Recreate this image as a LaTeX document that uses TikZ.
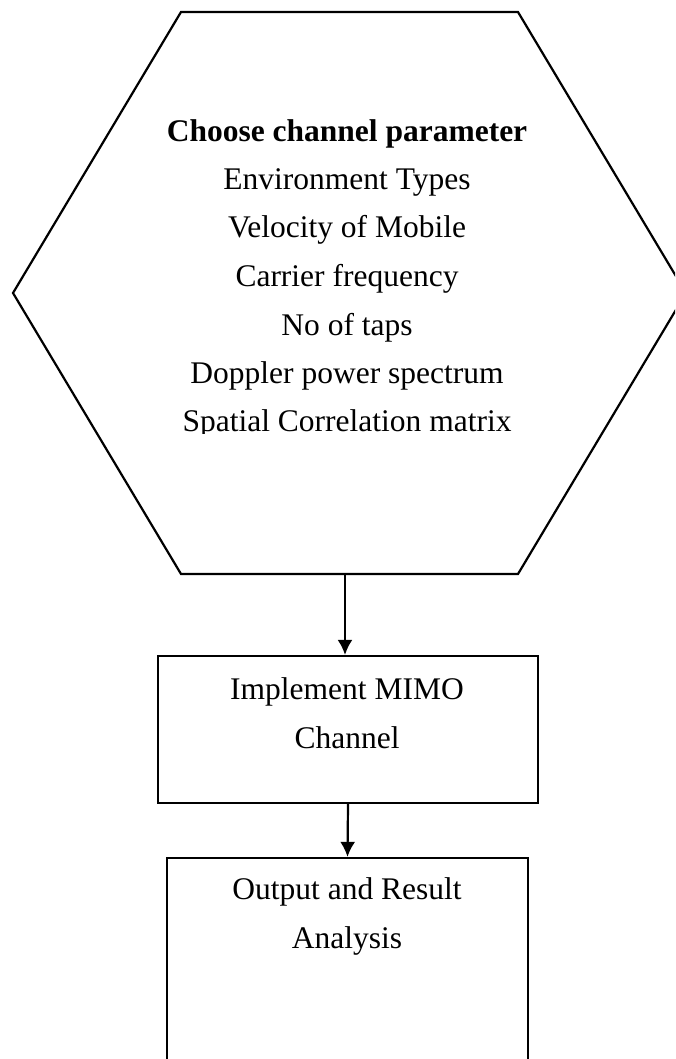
\documentclass[tikz,border=0pt]{standalone}
\usepackage{fontspec}
\setmainfont{Liberation Serif}
\usepackage{tikz}
\usetikzlibrary{arrows.meta}

\begin{document}
\begin{tikzpicture}[x=1pt,y=-1pt,line width=2.2pt,
  txt/.style={anchor=base,inner sep=0pt,font=\fontsize{31.5}{31.5}\selectfont},
  stepbox/.style={draw,rectangle,inner sep=0pt},
  flow/.style={-{Latex[length=15pt,width=15pt]}}]
\useasboundingbox (0,0) rectangle (675,1059);
\clip (0,0) rectangle (675,1059);
\draw (181,12) -- (518,12) -- (686,293) -- (518,574) -- (181,574) -- (13,293) -- cycle;
\coordinate (hexout) at (345,574);
\begin{scope}
\clip (0,0) rectangle (675,433);
\node[txt,font=\fontsize{31.5}{31.5}\selectfont\bfseries] (par) at (347,142) {Choose channel parameter};
\node[txt] (env) at (347,190) {Environment Types};
\node[txt] (vel) at (347,238) {Velocity of Mobile};
\node[txt] (car) at (347,286) {Carrier frequency};
\node[txt] (tap) at (347,335) {No of taps};
\node[txt] (dop) at (347,383) {Doppler power spectrum};
\node[txt] (spa) at (347,431) {Spatial Correlation matrix};
\end{scope}
\node[stepbox,minimum width=380pt,minimum height=147pt] (impl) at (348,729.5) {};
\node[txt] (impla) at (347,699) {Implement MIMO};
\node[txt] (implb) at (347,748) {Channel};
\node[stepbox,minimum width=361pt,minimum height=260pt] (out) at (347.5,988) {};
\node[txt] (outa) at (347,899) {Output and Result};
\node[txt] (outb) at (347,948) {Analysis};
\draw[flow] (hexout) -- (hexout |- impl.north);
\draw[flow] (impl.south) -- (out.north);
\end{tikzpicture}
\end{document}
